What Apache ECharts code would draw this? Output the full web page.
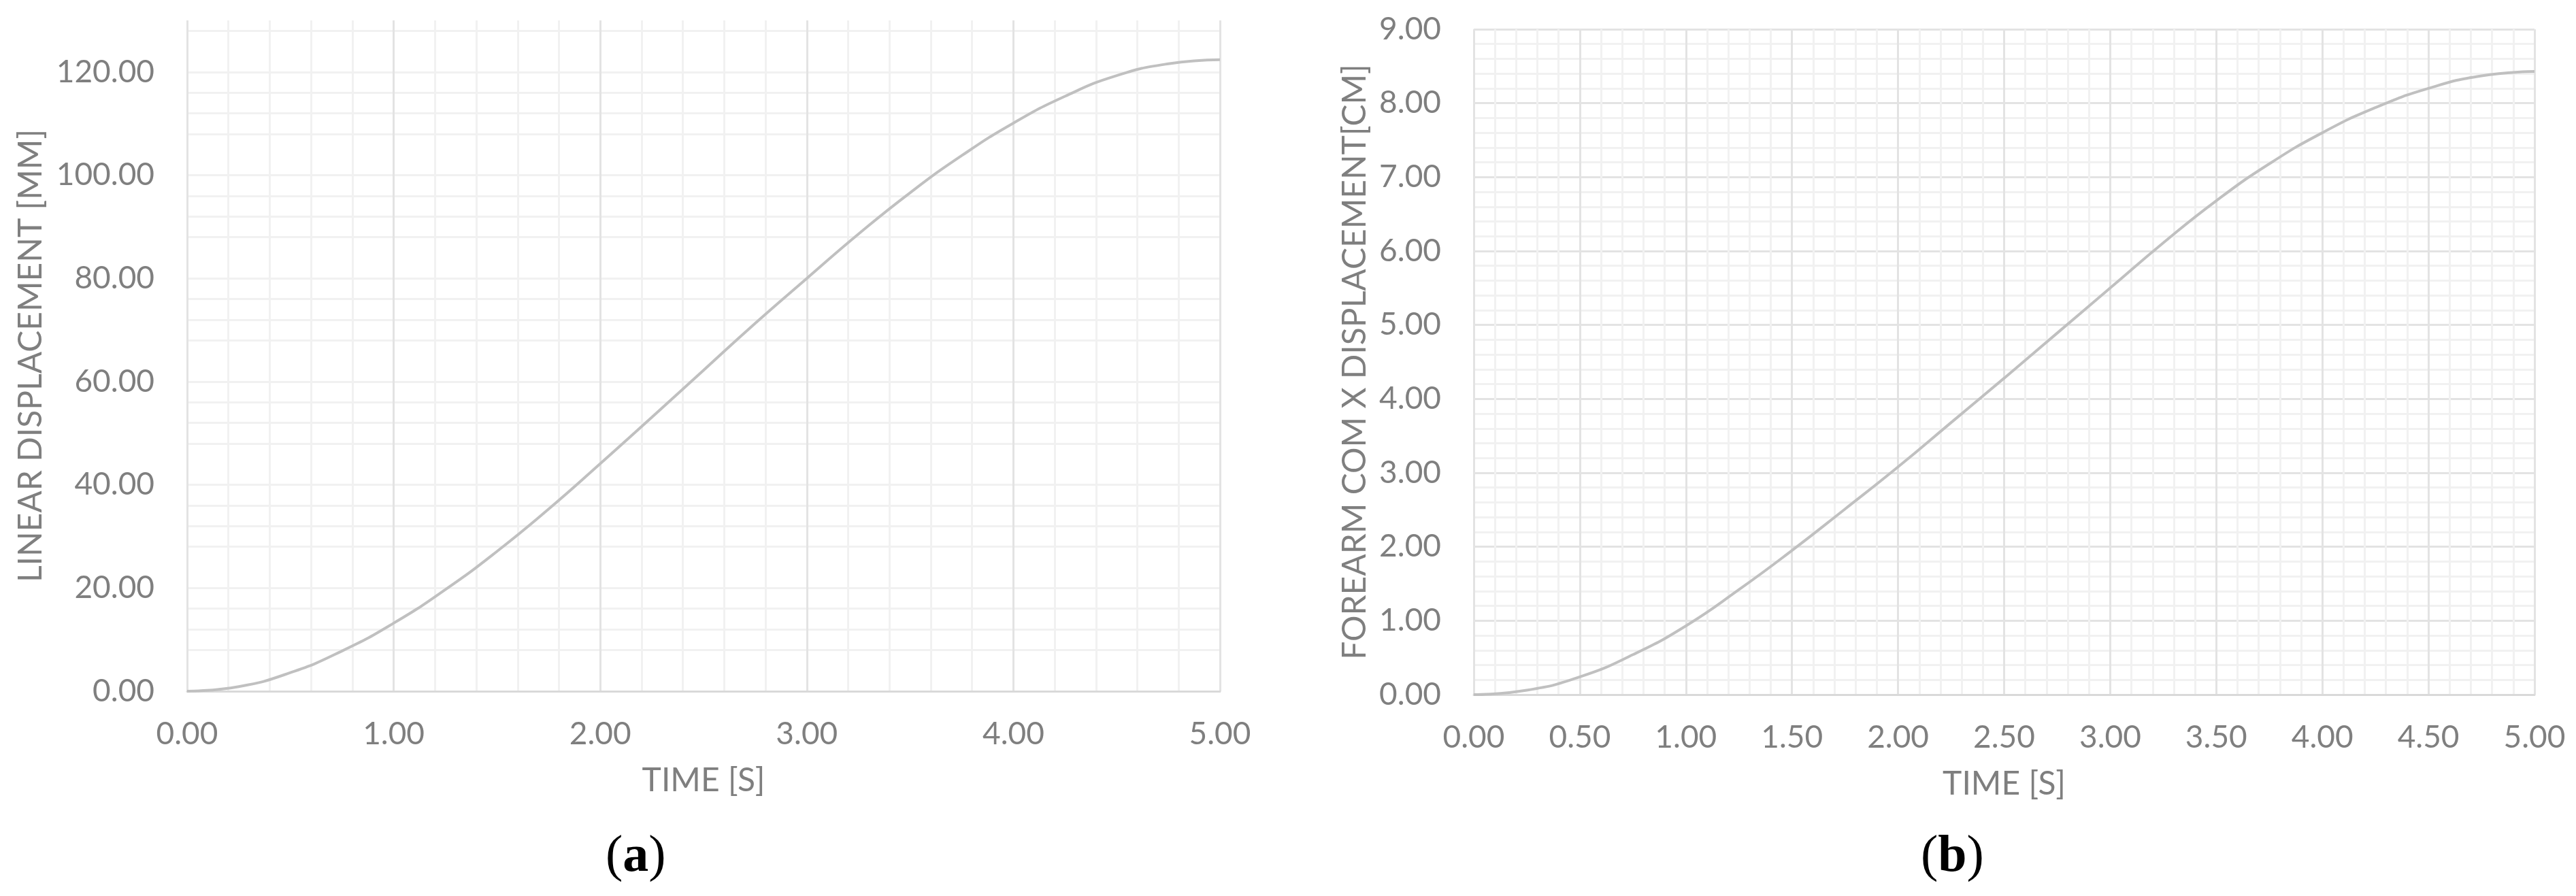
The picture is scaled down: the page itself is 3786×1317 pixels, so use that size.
<!DOCTYPE html>
<html>
<head>
<meta charset="utf-8">
<title>Displacement vs time</title>
<script src="https://cdn.jsdelivr.net/npm/echarts@6.0.0/dist/echarts.min.js"></script>
<style>
  html, body { margin: 0; padding: 0; background: #fff; }
  #main { width: 3786px; height: 1317px; }
</style>
</head>
<body>
<div id="main"></div>
<script type="text/javascript">
// time samples (s), shared by both panels
var timeS = [0, 0.25, 0.5, 0.75, 1.0, 1.25, 1.5, 1.75, 2.0, 2.25, 2.5,
             2.75, 3.0, 3.25, 3.5, 3.75, 4.0, 4.25, 4.5, 4.75, 5.0];
// (a) linear displacement [mm]
var linearMM = [0, 0.9, 3.6, 7.8, 13.2, 19.7, 27.1, 35.3, 44.1, 53.1, 62.2,
                71.3, 80.0, 88.6, 96.6, 103.8, 110.1, 115.3, 119.3, 121.6, 122.4];
// (b) forearm COM x displacement [cm]
var forearmCM = [0, 0.06, 0.24, 0.54, 0.93, 1.42, 1.95, 2.51, 3.08, 3.68, 4.28,
                 4.89, 5.50, 6.11, 6.68, 7.18, 7.60, 7.94, 8.20, 8.37, 8.43];

var titleA = 'LINEAR DISPLACEMENT [MM]';
var titleB = 'FOREARM COM X DISPLACEMENT[CM]';
var titleX = 'TIME [S]';

function pairs(xs, ys) {
    var out = [];
    for (var i = 0; i < xs.length; i++) out.push([xs[i], ys[i]]);
    return out;
}

var font = 'Lato';
var txtColor = '#7f7f7f';
var major = '#e3e3e3';
var minor = '#f1f1f1';
var fmt = function (v) { return v.toFixed(2); };

function xAxisFor(grid, interval) {
    return {
        type: 'value', gridIndex: grid, min: 0, max: 5, interval: interval,
        name: titleX, nameLocation: 'middle', nameGap: 108,
        nameTextStyle: { fontFamily: font, fontSize: 48, color: txtColor },
        axisLine: { show: true, lineStyle: { color: '#d9d9d9', width: 3 } },
        axisTick: { show: false },
        axisLabel: { margin: 40, fontFamily: font, fontSize: 46, color: txtColor, formatter: fmt },
        splitLine: { show: true, lineStyle: { color: major, width: 3 } },
        minorTick: { show: false, splitNumber: 5 },
        minorSplitLine: { show: true, lineStyle: { color: minor, width: 3 } }
    };
}

var myChart = echarts.init(document.getElementById('main'));

var option = {
    animation: false,
    backgroundColor: '#ffffff',
    grid: [
        { left: 275, top: 30, width: 1518, height: 986 },
        { left: 2166, top: 43, width: 1559, height: 978 }
    ],
    xAxis: [xAxisFor(0, 1), xAxisFor(1, 0.5)],
    yAxis: [
        {
            type: 'value', gridIndex: 0, min: 0, max: 130, interval: 20,
            name: titleA, nameLocation: 'middle', nameGap: 205,
            nameTextStyle: { fontFamily: font, fontSize: 48, color: txtColor },
            axisLine: { show: false }, axisTick: { show: false },
            axisLabel: { margin: 48, fontFamily: font, fontSize: 46, color: txtColor,
                         formatter: fmt, showMaxLabel: false },
            splitLine: { show: true, showMaxLine: false, lineStyle: { color: major, width: 3 } }
        },
        {
            // minor horizontal grid for panel (a): every 4 mm, skipping the majors
            type: 'value', gridIndex: 0, min: 0, max: 130, interval: 4, position: 'left',
            axisLine: { show: false }, axisTick: { show: false }, axisLabel: { show: false },
            splitLine: { show: true, showMaxLine: false, showMinLine: false,
                         lineStyle: { color: ['rgba(0,0,0,0)', minor, minor, minor, minor], width: 3 } }
        },
        {
            type: 'value', gridIndex: 1, min: 0, max: 9, interval: 1,
            name: titleB, nameLocation: 'middle', nameGap: 150,
            nameTextStyle: { fontFamily: font, fontSize: 48, color: txtColor },
            axisLine: { show: false }, axisTick: { show: false },
            axisLabel: { margin: 48, fontFamily: font, fontSize: 46, color: txtColor, formatter: fmt },
            splitLine: { show: true, lineStyle: { color: major, width: 3 } },
            minorTick: { show: false, splitNumber: 5 },
            minorSplitLine: { show: true, lineStyle: { color: minor, width: 3 } }
        }
    ],
    graphic: [
        {
            type: 'text', left: 935 - 45, top: 1222,
            style: {
                text: '{p|(}{b|a}{p|)}',
                rich: {
                    p: { fontFamily: 'Liberation Serif', fontSize: 76, fill: '#000' },
                    b: { fontFamily: 'Liberation Serif', fontSize: 76, fontWeight: 'bold', fill: '#000' }
                }
            }
        },
        {
            type: 'text', left: 2870 - 47, top: 1222,
            style: {
                text: '{p|(}{b|b}{p|)}',
                rich: {
                    p: { fontFamily: 'Liberation Serif', fontSize: 76, fill: '#000' },
                    b: { fontFamily: 'Liberation Serif', fontSize: 76, fontWeight: 'bold', fill: '#000' }
                }
            }
        }
    ],
    series: [
        {
            name: 'Linear displacement', type: 'line', xAxisIndex: 0, yAxisIndex: 0,
            data: pairs(timeS, linearMM), smooth: true, showSymbol: false,
            lineStyle: { color: '#c0c0c0', width: 4 }
        },
        {
            name: 'Forearm COM X', type: 'line', xAxisIndex: 1, yAxisIndex: 2,
            data: pairs(timeS, forearmCM), smooth: true, showSymbol: false,
            lineStyle: { color: '#c0c0c0', width: 4 }
        }
    ]
};
myChart.setOption(option);
</script>
</body>
</html>
